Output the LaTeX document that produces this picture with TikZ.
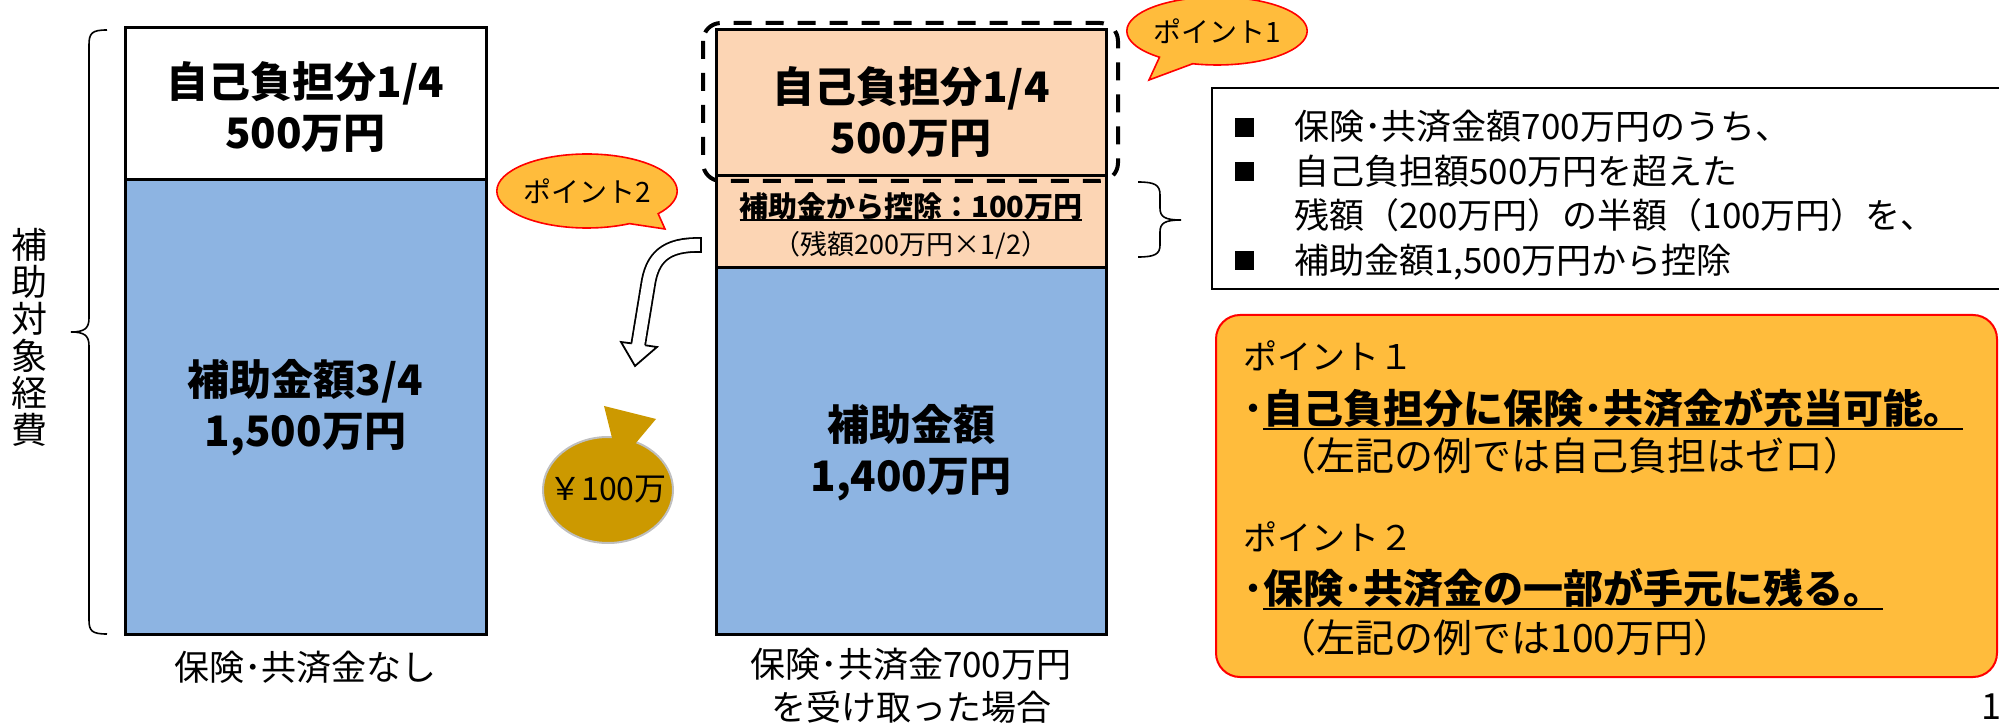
\documentclass[tikz,border=0pt]{standalone}
\usepackage{fontspec}
\setmainfont{Noto Sans CJK JP}
\usetikzlibrary{calc,positioning,shapes.geometric,shapes.callouts}
\definecolor{pinkfill}{HTML}{FCD5B4}
\definecolor{bluefill}{HTML}{8DB4E2}
\definecolor{pointfill}{RGB}{255,188,60}
\definecolor{bagfill}{HTML}{CC9900}
\newcommand{\ulbox}[2][3.6pt]{\setbox0\hbox{#2}\rlap{\rule[-#1]{\wd0}{1.3pt}}\box0}
\newcommand{\sqbullet}{\rule[1.5pt]{9.5pt}{9.5pt}}

\begin{document}
\begin{tikzpicture}[x=0.5pt,y=-0.5pt]

\tikzset{barline/.style={line width=1.5pt,draw=black},
bigtext/.style={font=\fontsize{21pt}{25.5pt}\selectfont\bfseries,align=center,inner sep=0pt},
captext/.style={font=\fontsize{17.5pt}{21.5pt}\selectfont,align=center,inner sep=0pt},
bubble/.style={ellipse callout,fill=pointfill,draw=red,line width=0.8pt,inner sep=0pt,font=\fontsize{14pt}{15pt}\selectfont,callout pointer arc=24},
boxline/.style={anchor=base west,inner sep=0pt}}

\useasboundingbox (0,0) rectangle (1999,727);

% Brace and side label
\draw[line width=0.8pt] (107,30) .. controls (92,30) and (89,33) .. (89,45) -- (89,318) .. controls (89,328) and (85,332) .. (71,332) .. controls (85,332) and (89,336) .. (89,346) -- (89,620) .. controls (89,631) and (92,634) .. (107,634);
\node[font=\fontsize{18pt}{18.5pt}\selectfont,align=center,inner sep=0pt] (vlabel) at (29,337) {補\\助\\対\\象\\経\\費};

% Left bar
\draw[barline,fill=white] (125,28) rectangle (486,180);
\draw[barline,fill=bluefill] (125,180) rectangle (486,634);
\node[bigtext] (selfL) at (305.5,107) {自己負担分1/4\\500万円};
\node[bigtext] (subL) at (305.5,408) {補助金額3/4\\1,500万円};
\node[captext] (capL) at (305.5,667) {保険･共済金なし};

% Middle bar
\draw[barline,fill=pinkfill] (716,30) rectangle (1106,176);
\draw[barline,fill=pinkfill] (716,176) rectangle (1106,268);
\draw[barline,fill=bluefill] (716,268) rectangle (1106,634);
\node[bigtext] (selfM) at (911,112) {自己負担分1/4\\500万円};
\node[bigtext] (subM) at (911,453) {補助金額\\1,400万円};
\node[font=\fontsize{14.5pt}{16pt}\selectfont\bfseries,inner sep=0pt] (dedM) at (911,207) {\ulbox[2pt]{補助金から控除：100万円}};
\node[font=\fontsize{13.5pt}{15pt}\selectfont,inner sep=0pt] (dedsub) at (911,245) {（残額200万円×1/2）};
\node[captext] (capM) at (911,685.5) {保険･共済金700万円\\を受け取った場合};

% Dashed frame round own share
\draw[line width=2pt,dash pattern=on 9pt off 7pt,rounded corners=9pt] (703,23) rectangle (1118,181);

% Bubbles
\node[bubble,minimum width=67pt,minimum height=34pt,callout absolute pointer={(1149,80)}] (pt1) at (1217,31) {ポイント1};
\node[bubble,minimum width=66.5pt,minimum height=37pt,callout absolute pointer={(665,229)}] (pt2) at (587,191) {ポイント2};

% Hollow arrow to the bag
\coordinate (arrtail) at (701,245);
\coordinate (arrend) at (637,352);
\draw[line width=0.9pt,double=white,double distance=6pt] (arrtail) .. controls (665,244) and (652,258) .. (648,285) -- (arrend);
\draw[line width=0.9pt] (701,237.1) -- (701,252.9);
\fill[white] (621,342) -- (635,366) -- (657,347) -- cycle;
\draw[line width=0.9pt,line join=miter] (631.7,343.4) -- (621,342) -- (635,366) -- (657,347) -- (645.3,345.3);

% Money bag
\node[ellipse,fill=bagfill,draw=black!25,line width=1pt,minimum width=65pt,minimum height=53pt,inner sep=0pt] (bag) at (608,490) {};
\fill[bagfill] (604,406) -- (656,419) -- (630,450) -- (615,450) -- cycle;
\node[font=\fontsize{16pt}{17pt}\selectfont,inner sep=0pt] (bagtext) at (bag.center) {￥100万};

% Right brace and notes
\draw[line width=0.8pt] (1138,182) .. controls (1155,182) and (1160,185) .. (1160,195) -- (1160,208) .. controls (1160,217) and (1165,220) .. (1181,220) .. controls (1165,220) and (1160,223) .. (1160,232) -- (1160,245) .. controls (1160,254) and (1155,257) .. (1138,257);
\draw[line width=1pt] (2010,88) -- (1212,88) -- (1212,289) -- (2010,289);
\node[boxline,font=\fontsize{17.5pt}{22.25pt}\selectfont] (notes) at (1235,140) {\begin{tabular}[t]{@{}l@{\hspace{20pt}}l@{}}
\sqbullet & 保険･共済金額700万円のうち、\\
\sqbullet & 自己負担額500万円を超えた\\
 & 残額（200万円）の半額（100万円）を、\\
\sqbullet & 補助金額1,500万円から控除
\end{tabular}};

% Points box
\draw[red,fill=pointfill,line width=1pt,rounded corners=12pt] (1216,315) rectangle (1997,677);
\node[boxline,font=\fontsize{17pt}{17pt}\selectfont] (p1head) at (1243,370) {ポイント１};
\node[boxline,font=\fontsize{20pt}{20pt}\selectfont\bfseries] (p1body) at (1243,423) {･\ulbox{自己負担分に保険･共済金が充当可能。}};
\node[boxline,font=\fontsize{19.5pt}{19.5pt}\selectfont] (p1note) at (1277,471) {（左記の例では自己負担はゼロ）};
\node[boxline,font=\fontsize{17pt}{17pt}\selectfont] (p2head) at (1243,550) {ポイント２};
\node[boxline,font=\fontsize{20pt}{20pt}\selectfont\bfseries] (p2body) at (1243,603) {･\ulbox{保険･共済金の一部が手元に残る。}};
\node[boxline,font=\fontsize{19.5pt}{19.5pt}\selectfont] (p2note) at (1277,652) {（左記の例では100万円）};

% Page number
\node[font=\fontsize{18pt}{18pt}\selectfont,inner sep=0pt] (pageno) at (1991,707) {1};

\end{tikzpicture}
\end{document}
